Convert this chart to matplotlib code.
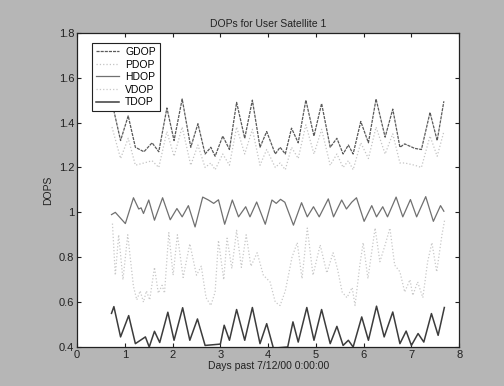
import numpy as np
import matplotlib
matplotlib.use("Agg")
import matplotlib.pyplot as plt

plt.rcParams['font.family'] = ['Liberation Sans', 'DejaVu Sans']

# values (days, DOP)
x_top = [0.73, 0.91, 1.07, 1.22, 1.40, 1.57, 1.71, 1.88, 2.03, 2.20,
         2.38, 2.53, 2.68, 2.80, 2.89, 3.05, 3.19, 3.34, 3.51, 3.67,
         3.83, 3.97, 4.15, 4.25, 4.36, 4.49, 4.63, 4.79, 4.96, 5.12,
         5.30, 5.44, 5.57, 5.68, 5.78, 5.94, 6.10, 6.26, 6.45, 6.61,
         6.76, 6.86, 7.07, 7.21, 7.39, 7.54, 7.68]
gdop = [1.49, 1.32, 1.43, 1.29, 1.27, 1.31, 1.27, 1.465, 1.32, 1.505,
        1.29, 1.395, 1.26, 1.29, 1.25, 1.34, 1.28, 1.49, 1.33, 1.50,
        1.29, 1.36, 1.26, 1.29, 1.26, 1.375, 1.31, 1.50, 1.34, 1.485,
        1.29, 1.33, 1.26, 1.30, 1.26, 1.405, 1.31, 1.505, 1.335, 1.46,
        1.29, 1.305, 1.285, 1.28, 1.445, 1.32, 1.495]
pdop = [1.38, 1.24, 1.33, 1.21, 1.22, 1.23, 1.20, 1.36, 1.25, 1.38,
        1.21, 1.30, 1.20, 1.22, 1.19, 1.26, 1.21, 1.38, 1.26, 1.37,
        1.21, 1.28, 1.20, 1.22, 1.19, 1.29, 1.24, 1.39, 1.26, 1.37,
        1.21, 1.26, 1.20, 1.23, 1.19, 1.31, 1.24, 1.38, 1.26, 1.35,
        1.22, 1.22, 1.21, 1.20, 1.34, 1.25, 1.36]

x_hdop = [0.72, 0.80, 1.01, 1.18, 1.29, 1.34, 1.39, 1.50, 1.62, 1.79,
          1.95, 2.09, 2.20, 2.33, 2.47, 2.63, 2.75, 2.86, 2.96, 3.09,
          3.25, 3.38, 3.53, 3.62, 3.76, 3.94, 4.08, 4.17, 4.26, 4.35,
          4.53, 4.70, 4.82, 4.95, 5.07, 5.26, 5.37, 5.54, 5.64, 5.75,
          5.85, 6.01, 6.17, 6.27, 6.40, 6.50, 6.68, 6.82, 6.98, 7.11,
          7.30, 7.46, 7.61, 7.68]
hdop = [0.99, 1.00, 0.95, 1.065, 1.015, 1.02, 0.995, 1.055, 0.965, 1.065,
        0.967, 1.017, 0.98, 1.03, 0.935, 1.068, 1.055, 1.04, 1.056, 0.947,
        1.055, 0.98, 1.025, 0.98, 1.046, 0.947, 1.055, 1.04, 1.058, 1.045,
        0.943, 1.043, 0.98, 1.025, 0.98, 1.06, 0.98, 1.055, 1.015, 1.045,
        1.065, 0.96, 1.03, 0.98, 1.025, 0.98, 1.068, 0.98, 1.057, 0.98,
        1.07, 0.96, 1.03, 1.005]

x_vdop = [0.74, 0.80, 0.87, 0.96, 1.06, 1.18, 1.25, 1.32, 1.39, 1.45,
          1.52, 1.62, 1.70, 1.78, 1.83, 1.92, 2.01, 2.10, 2.22, 2.36,
          2.50, 2.60, 2.70, 2.80, 2.89, 2.96, 3.07, 3.14, 3.24, 3.34,
          3.44, 3.54, 3.64, 3.77, 3.90, 4.04, 4.15, 4.25, 4.36, 4.50,
          4.61, 4.71, 4.82, 4.94, 5.09, 5.23, 5.36, 5.45, 5.55, 5.65,
          5.76, 5.82, 5.92, 5.99, 6.09, 6.24, 6.34, 6.45, 6.55, 6.65,
          6.76, 6.86, 6.97, 7.03, 7.13, 7.24, 7.34, 7.43, 7.53, 7.64,
          7.70]
vdop = [0.95, 0.72, 0.90, 0.70, 0.90, 0.67, 0.61, 0.65, 0.60, 0.65,
        0.61, 0.755, 0.64, 0.675, 0.64, 0.91, 0.72, 0.90, 0.71, 0.86,
        0.72, 0.76, 0.62, 0.585, 0.645, 0.875, 0.70, 0.885, 0.75, 0.92,
        0.755, 0.90, 0.76, 0.82, 0.72, 0.69, 0.60, 0.585, 0.65, 0.80,
        0.865, 0.705, 0.93, 0.72, 0.855, 0.73, 0.82, 0.75, 0.645, 0.62,
        0.665, 0.585, 0.765, 0.865, 0.705, 0.93, 0.78, 0.855, 0.93, 0.765,
        0.735, 0.645, 0.70, 0.63, 0.69, 0.62, 0.78, 0.865, 0.735, 0.90,
        0.97]

x_tdop = [0.72, 0.77, 0.91, 1.08, 1.22, 1.43, 1.51, 1.62, 1.73, 1.90,
          2.03, 2.21, 2.36, 2.52, 2.68, 3.00, 3.08, 3.19, 3.34, 3.51,
          3.67, 3.83, 3.97, 4.11, 4.41, 4.52, 4.63, 4.81, 4.96, 5.12,
          5.30, 5.44, 5.57, 5.68, 5.78, 5.96, 6.10, 6.27, 6.43, 6.61,
          6.76, 6.89, 7.00, 7.14, 7.26, 7.42, 7.56, 7.69]
tdop = [0.55, 0.58, 0.445, 0.54, 0.415, 0.445, 0.40, 0.47, 0.42, 0.555,
        0.43, 0.575, 0.43, 0.525, 0.407, 0.413, 0.497, 0.43, 0.567, 0.43,
        0.576, 0.415, 0.504, 0.395, 0.40, 0.512, 0.422, 0.576, 0.43, 0.567,
        0.415, 0.492, 0.407, 0.43, 0.40, 0.534, 0.43, 0.582, 0.445, 0.556,
        0.415, 0.471, 0.407, 0.46, 0.422, 0.549, 0.452, 0.576]

y_ticks = [0.4, 0.6, 0.8, 1.0, 1.2, 1.4, 1.6, 1.8]
y_labels = ['0.4', '0.6', '0.8', '1', '1.2', '1.4', '1.6', '1.8']

fig = plt.figure(figsize=(5.04, 3.86), dpi=100, facecolor='#b6b6b6')
ax = fig.add_axes([0.153, 0.101, 0.758, 0.814])
ax.set_facecolor('white')

ax.plot(x_top, gdop, color='#5a5a5a', lw=0.9, ls=(0, (2.5, 0.8)), label='GDOP')
ax.plot(x_top, pdop, color='#c4c4c4', lw=0.9, ls=':', label='PDOP')
ax.plot(x_hdop, hdop, color='#707070', lw=0.9, ls='-', label='HDOP')
ax.plot(x_vdop, vdop, color='#c8c8c8', lw=0.9, ls=':', label='VDOP')
ax.plot(x_tdop, tdop, color='#3c3c3c', lw=1.1, ls='-', label='TDOP')

ax.set_xlim(0, 8)
ax.set_ylim(0.4, 1.8)
ax.set_xticks(range(9))
ax.set_yticks(y_ticks)
ax.set_yticklabels(y_labels)
ax.tick_params(direction='in', length=3, width=0.8, top=True, right=True,
               labelsize=8, colors='#222222', pad=2)
for s in ax.spines.values():
    s.set_linewidth(0.9)
    s.set_color('#222222')

ax.set_title('DOPs for User Satellite 1', fontsize=7.5, pad=4, color='#222222')
ax.set_xlabel('Days past 7/12/00 0:00:00', fontsize=7.5, labelpad=1, color='#222222')
ax.set_ylabel('DOPS', fontsize=7.5, labelpad=4, color='#222222')

leg = ax.legend(loc='upper left', bbox_to_anchor=(0.025, 0.985), fontsize=7.5,
                handlelength=2.2, handletextpad=0.6, labelspacing=0.25,
                borderpad=0.4, fancybox=False, framealpha=1, edgecolor='#222222')
leg.get_frame().set_linewidth(0.8)

fig.savefig('out.png', dpi=100, facecolor=fig.get_facecolor())
